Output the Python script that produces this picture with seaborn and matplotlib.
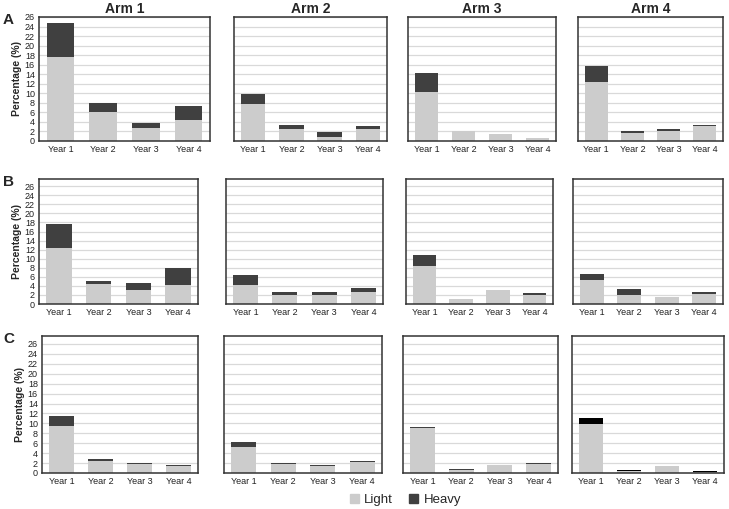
import pandas as pd
import numpy as np
from matplotlib import pyplot as plt
from matplotlib.patches import Patch
import seaborn as sns

sns.set_style('white')
plt.rcParams['font.family'] = ['Liberation Sans', 'DejaVu Sans']

years = ['Year 1', 'Year 2', 'Year 3', 'Year 4']
arms = ['Arm 1', 'Arm 2', 'Arm 3', 'Arm 4']
panels = ['A', 'B', 'C']

# light / heavy percentage per arm (rows = arms, cols = years)
light_A = [[17.6, 6.1, 2.8, 4.4], [7.8, 2.5, 0.9, 2.5], [10.2, 2.0, 1.4, 0.55], [12.4, 1.6, 2.0, 3.2]]
heavy_A = [[7.2, 1.9, 1.0, 3.0], [2.1, 0.8, 0.9, 0.7], [4.0, 0.0, 0.15, 0.1], [3.3, 0.6, 0.6, 0.2]]
light_B = [[12.3, 4.4, 3.1, 4.2], [4.3, 1.9, 1.9, 2.6], [8.4, 1.2, 3.2, 1.9], [5.4, 2.05, 1.5, 2.3]]
heavy_B = [[5.3, 0.7, 1.5, 3.7], [2.2, 0.7, 0.7, 0.9], [2.5, 0.0, 0.0, 0.6], [1.3, 1.35, 0.1, 0.4]]
light_C = [[9.5, 2.5, 1.9, 1.35], [5.2, 1.9, 1.35, 2.3], [9.0, 0.65, 1.7, 1.8], [9.9, 0.4, 1.5, 0.25]]
heavy_C = [[2.0, 0.4, 0.2, 0.2], [1.0, 0.2, 0.25, 0.2], [0.2, 0.25, 0.0, 0.2], [1.2, 0.25, 0.0, 0.2]]

light = {'A': light_A, 'B': light_B, 'C': light_C}
heavy = {'A': heavy_A, 'B': heavy_B, 'C': heavy_C}

rows = []
for p in panels:
    for i, arm in enumerate(arms):
        for j, yr in enumerate(years):
            l = light[p][i][j]
            h = heavy[p][i][j]
            rows.append({'panel': p, 'arm': arm, 'year': yr, 'light': l, 'heavy': h, 'total': l + h})
df = pd.DataFrame(rows)

LIGHT = '#cccccc'
HEAVY = '#404040'

W, H = 729, 509
# axes boxes in pixels: (left, right) per column, (top, bottom) per row
cols_px = {'A': [(39, 210), (234, 387), (408, 556), (578, 723)],
           'B': [(39, 198), (226, 383), (406, 553), (573, 723)],
           'C': [(42, 198), (224, 382), (403, 558), (572, 724)]}
rows_px = {'A': (17, 141), 'B': (179, 304), 'C': (336, 473)}
ytop = {'A': 26, 'B': 27.6, 'C': 27.6}

fig = plt.figure(figsize=(W / 100, H / 100), dpi=100)

for p in panels:
    t, b = rows_px[p]
    for i, arm in enumerate(arms):
        l, r = cols_px[p][i]
        ax = fig.add_axes([l / W, 1 - b / H, (r - l) / W, (b - t) / H])
        sub = df[(df.panel == p) & (df.arm == arm)]
        hc = '#000000' if (p == 'C' and arm == 'Arm 4') else HEAVY
        for yv in range(2, 27, 2):
            ax.axhline(yv, color='#d9d9d9', lw=0.9, zorder=0.5)
        sns.barplot(data=sub, x='year', y='total', color=hc, width=0.64,
                    saturation=1, linewidth=0, edgecolor='none', ax=ax, zorder=1.5)
        sns.barplot(data=sub, x='year', y='light', color=LIGHT, width=0.64,
                    saturation=1, linewidth=0, edgecolor='none', ax=ax, zorder=2)
        ax.set_ylim(0, ytop[p])
        ax.set_xlim(-0.5, 3.5)
        ax.set_xlabel('')
        ax.set_ylabel('')
        ax.tick_params(axis='both', length=0, labelsize=6.5, pad=3, colors='#222222')
        ax.set_yticks(range(0, 27, 2))
        if i == 0:
            ax.set_ylabel('Percentage (%)', fontsize=7.5, fontweight='bold', labelpad=2)
        else:
            ax.set_yticklabels([])
        for s in ax.spines.values():
            s.set_color('#333333')
            s.set_linewidth(1.1)
            s.set_zorder(3)
        if p == 'A':
            ax.set_title(arm, fontsize=10, fontweight='bold', pad=3)
    fig.text(3 / W, 1 - (t - 4) / H, p, fontsize=11, fontweight='bold', va='top', ha='left')

handles = [Patch(color=LIGHT, label='Light'), Patch(color=HEAVY, label='Heavy')]
fig.legend(handles=handles, loc='center', bbox_to_anchor=(0.556, 0.018), ncol=2,
           frameon=False, fontsize=9.5, handlelength=0.7, handleheight=0.7,
           handletextpad=0.4, columnspacing=1.2)

plt.savefig('out.png', dpi=100)
